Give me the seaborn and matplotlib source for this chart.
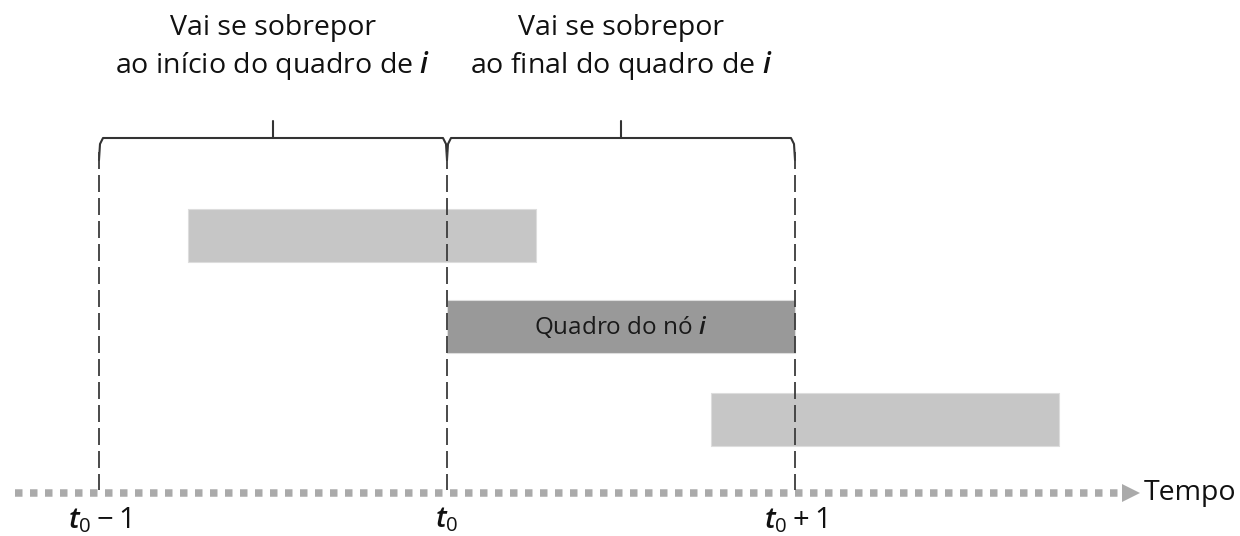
import numpy as np
import pandas as pd
import matplotlib
matplotlib.use("Agg")
import matplotlib.pyplot as plt
import seaborn as sns

# ---- data (time in frame units, t0 = 0) ----
frame_labels = ["Quadro anterior", "Quadro do nó $\\mathit{i}$", "Quadro posterior"]
frame_starts = [-0.745, 0.0, 0.76]
frame_durations = [1.0, 1.0, 1.0]
frame_colors = ["#c6c6c6", "#999999", "#c6c6c6"]
tick_values = [-1.0, 0.0, 1.0]
tick_labels = ["$t_0 - 1$", "$t_0$", "$t_0 + 1$"]
brace_texts = ["Vai se sobrepor\nao início do quadro de $\\mathit{i}$",
               "Vai se sobrepor\nao final do quadro de $\\mathit{i}$"]
axis_label = "Tempo"

sns.set_theme(style="white")
plt.rcParams["font.family"] = ["Open Sans", "DejaVu Sans"]
plt.rcParams["mathtext.fontset"] = "custom"
plt.rcParams["mathtext.rm"] = "Open Sans"
plt.rcParams["mathtext.it"] = "Open Sans:italic:semibold"
plt.rcParams["mathtext.bf"] = "Open Sans:bold"
plt.rcParams["lines.scale_dashes"] = False

fig = plt.figure(figsize=(12.4, 5.36), dpi=100)
ax = fig.add_axes([0, 0, 1, 1])
unit = 348.0
x0 = 447.0
ax.set_xlim(-x0 / unit, (1240 - x0) / unit)
ax.set_ylim(536, 0)
ax.axis("off")

px = 72.0 / 100.0  # points per pixel

# layout (pixel rows)
row_y = [235, 326.5, 419.5]
row_h = 53
axis_y = 493

df = pd.DataFrame({"label": frame_labels, "start": frame_starts,
                   "dur": frame_durations, "color": frame_colors, "y": row_y})
ax.barh(df["y"], df["dur"], left=df["start"], height=row_h,
        color=df["color"], edgecolor="#dddddd", linewidth=0.8, zorder=2)
mid = df.iloc[1]
ax.text(mid["start"] + mid["dur"] / 2, mid["y"] + 1, mid["label"],
        ha="center", va="center", fontsize=17.5, color="#1a1a1a", zorder=4)

# dashed vertical lines (drawn over the bars)
for tv in tick_values:
    ax.plot([tv, tv], [152, 490], color="#3c3c3c", lw=1.3,
            ls=(0, (17 * px, 6 * px)), zorder=3)

# time axis (dotted) with arrow
ax.plot([-432 / unit, (1122 - x0) / unit], [axis_y, axis_y], color="#aaaaaa",
        lw=7.5 * px, ls=(0, (7.5 * px, 7.5 * px)), solid_capstyle="butt",
        dash_capstyle="butt", zorder=1)
ax.plot([(1131 - x0) / unit], [axis_y], marker=">", markersize=13,
        color="#aaaaaa", markeredgewidth=0)
ax.text((1144 - x0) / unit, axis_y, axis_label, ha="left", va="center",
        fontsize=20.5, color="#111111")

for tv, tl in zip(tick_values, tick_labels):
    ax.text(tv, 520, tl, ha="center", va="center", fontsize=21, color="#111111")

# braces
def brace(xa, xb, y=138, drop=22):
    xs = [xa, xa + 1 / unit, xa + 4 / unit, xb - 4 / unit, xb - 1 / unit, xb]
    ys = [y + drop, y + 6, y, y, y + 6, y + drop]
    ax.plot(xs, ys, color="#333333", lw=1.5, solid_joinstyle="round")
    xm = (xa + xb) / 2
    ax.plot([xm, xm], [y, y - 17], color="#333333", lw=1.5)
    return xm

for (xa, xb), txt in zip([(tick_values[0], tick_values[1]),
                          (tick_values[1], tick_values[2])], brace_texts):
    xm = brace(xa, xb)
    ax.text(xm, 48, txt, ha="center", va="center", fontsize=20.5,
            color="#111111", linespacing=1.3)

fig.savefig("out.png", dpi=100, facecolor="white")
